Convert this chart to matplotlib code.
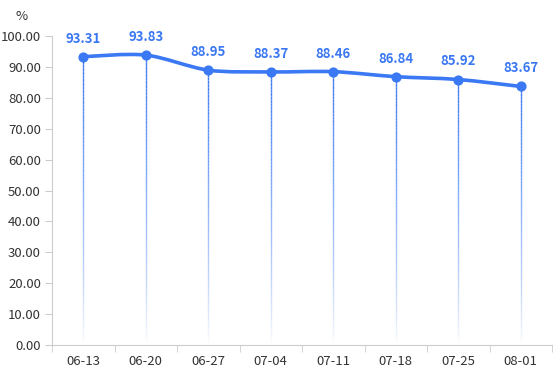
import numpy as np
import matplotlib.pyplot as plt
from matplotlib.path import Path
from matplotlib.patches import PathPatch
from matplotlib.collections import LineCollection

plt.rcParams['font.family'] = ['Noto Sans CJK SC', 'DejaVu Sans']

dates = ['06-13', '06-20', '06-27', '07-04', '07-11', '07-18', '07-25', '08-01']
values = [93.31, 93.83, 88.95, 88.37, 88.46, 86.84, 85.92, 83.67]
yticks = [0, 10, 20, 30, 40, 50, 60, 70, 80, 90, 100]

blue = '#3b78f3'
grey = '#cccccc'
text_c = '#333333'

fig = plt.figure(figsize=(5.54, 3.86), dpi=100)
ax = fig.add_axes([52/554, 41/386, 500/554, 309/386])

x = np.arange(len(values))
y = np.array(values, dtype=float)

# smooth curve through points (bezier, like echarts smooth)
s = 0.3
verts = [(x[0], y[0])]
codes = [Path.MOVETO]
for i in range(len(x) - 1):
    p0 = (x[max(i-1, 0)], y[max(i-1, 0)])
    p1 = (x[i], y[i])
    p2 = (x[i+1], y[i+1])
    p3 = (x[min(i+2, len(x)-1)], y[min(i+2, len(x)-1)])
    c1 = (p1[0] + (p2[0]-p0[0])*s/2, p1[1] + (p2[1]-p0[1])*s/2)
    c2 = (p2[0] - (p3[0]-p1[0])*s/2, p2[1] - (p3[1]-p1[1])*s/2)
    verts += [c1, c2, p2]
    codes += [Path.CURVE4]*3
ax.add_patch(PathPatch(Path(verts, codes), fill=False, edgecolor=blue, lw=2.6, zorder=3))

# fading drop lines
n = 80
for xi, yi in zip(x, y):
    ys = np.linspace(yi, 0, n+1)
    segs = [[(xi, ys[k]), (xi, ys[k+1])] for k in range(n)]
    alphas = np.linspace(1, 0, n) ** 0.8
    cols = [(0.23, 0.47, 0.95, a) for a in alphas]
    ax.add_collection(LineCollection(segs, colors=cols, linewidths=1.0,
                                     capstyle='butt', zorder=2))

ax.scatter(x, y, s=40, color=blue, zorder=4)
for xi, yi in zip(x, y):
    ax.annotate(f'{yi:.2f}', (xi, yi), xytext=(0, 8), textcoords='offset points',
                ha='center', va='bottom', color=blue, fontsize=9.5, fontweight='bold')

ax.set_xlim(-0.5, len(values) - 0.5)
ax.set_ylim(0, 100)
ax.set_yticks(yticks)
ax.set_yticklabels([f'{v:.2f}' for v in yticks])
ax.set_xticks(x)
ax.set_xticklabels(dates)
ax.set_xticks(np.arange(-0.5, len(values)), minor=True)
ax.tick_params(axis='x', which='major', length=0, pad=7, labelsize=9.5, labelcolor=text_c)
ax.tick_params(axis='x', which='minor', length=5, color=grey)
ax.tick_params(axis='y', length=5, color=grey, labelsize=9.5, labelcolor=text_c, pad=3)

for sp in ['top', 'right']:
    ax.spines[sp].set_visible(False)
for sp in ['left', 'bottom']:
    ax.spines[sp].set_color(grey)

fig.text(22/554, 1 - 17/386, '%', ha='center', va='center', fontsize=9.5, color=text_c)

fig.savefig('out.png', dpi=100)
